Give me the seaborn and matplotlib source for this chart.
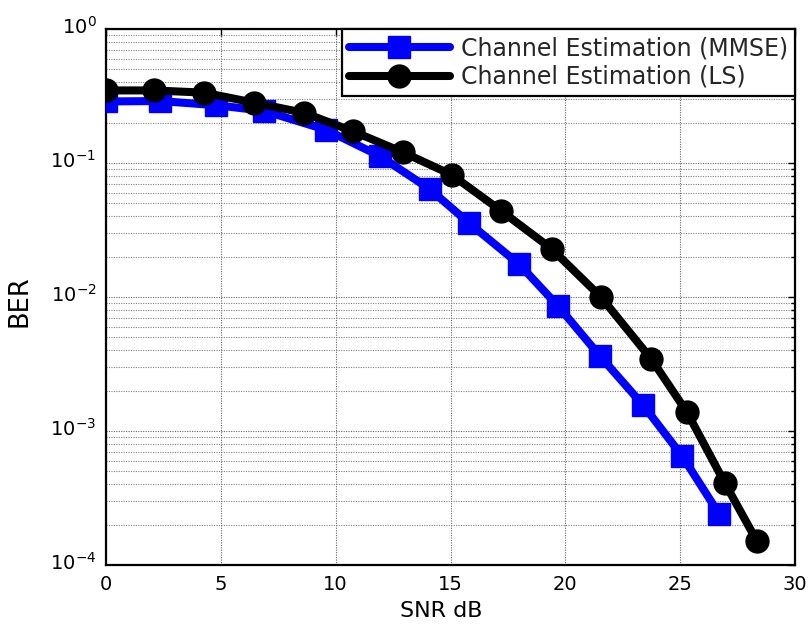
import numpy as np
import pandas as pd
import matplotlib
matplotlib.use("Agg")
import matplotlib.pyplot as plt
import matplotlib.ticker as mticker
import matplotlib.transforms as mtransforms
import seaborn as sns

# ---- data ----
snr_mmse = [0, 2.35, 4.79, 6.88, 9.58, 11.95, 14.1, 15.8, 18.0, 19.7, 21.5, 23.4, 25.1, 26.7]
ber_mmse = [0.288, 0.29, 0.27, 0.245, 0.177, 0.112, 0.0638, 0.0357, 0.0175, 0.0085,
            0.00364, 0.00155, 0.000646, 0.00024]
snr_ls = [0, 2.09, 4.27, 6.44, 8.62, 10.77, 12.94, 15.05, 17.2, 19.4, 21.55, 23.75, 25.3, 26.95, 28.35]
ber_ls = [0.348, 0.348, 0.335, 0.282, 0.237, 0.172, 0.12, 0.0817, 0.044, 0.0229,
          0.01, 0.00343, 0.00138, 0.000407, 0.00015]
label_mmse = "Channel Estimation (MMSE)"
label_ls = "Channel Estimation (LS)"
x_ticks = [0, 5, 10, 15, 20, 25, 30]
y_ticks = [1e-4, 1e-3, 1e-2, 1e-1, 1e0]

sns.set_theme(style="white")
plt.rcParams["font.family"] = ["DejaVu Sans"]
plt.rcParams["mathtext.default"] = "regular"

fig = plt.figure(figsize=(8.11, 6.26), dpi=100)
ax = fig.add_axes([106 / 811, 61 / 626, 689 / 811, 536 / 626])

df_mmse = pd.DataFrame({"snr": snr_mmse, "ber": ber_mmse})
df_ls = pd.DataFrame({"snr": snr_ls, "ber": ber_ls})

sns.lineplot(data=df_mmse, x="snr", y="ber", ax=ax, sort=False, color="#0000ff",
             linewidth=5.8, marker="s", markersize=16.5, markerfacecolor="#0000ff",
             markeredgecolor="#0000ff", markeredgewidth=1, label=label_mmse, zorder=3)
sns.lineplot(data=df_ls, x="snr", y="ber", ax=ax, sort=False, color="black",
             linewidth=5.8, marker="o", markersize=16.5, markerfacecolor="black",
             markeredgecolor="black", markeredgewidth=1, label=label_ls, zorder=4)

ax.set_yscale("log")
ax.set_xlim(0, 30)
ax.set_ylim(1e-4, 1)
ax.set_xticks(x_ticks)
ax.set_yticks(y_ticks)
ax.yaxis.set_minor_locator(mticker.LogLocator(base=10, subs=np.arange(2, 10), numticks=20))
ax.yaxis.set_minor_formatter(mticker.NullFormatter())
ax.yaxis.set_major_formatter(mticker.LogFormatterSciNotation())

ax.grid(True, which="major", axis="both", linestyle=(0, (1, 1.2)), linewidth=0.8, color="0.4")
ax.grid(True, which="minor", axis="y", linestyle=(0, (1, 1.2)), linewidth=0.8, color="0.5")
ax.set_axisbelow(True)

for s in ax.spines.values():
    s.set_visible(True)
    s.set_color("black")
    s.set_linewidth(1.6)

ax.tick_params(which="both", direction="in", top=True, right=True, colors="black",
               labelsize=14, width=1)
ax.tick_params(which="major", length=5, pad=7)
ax.tick_params(which="minor", length=3)

# lift y tick labels so the "10" part sits on the tick (superscript above)
offset = mtransforms.ScaledTranslation(0, 3 / 72, fig.dpi_scale_trans)
for lbl in ax.get_yticklabels():
    lbl.set_transform(lbl.get_transform() + offset)

ax.set_xlabel("SNR dB", fontsize=16, color="black")
ax.set_ylabel("BER", fontsize=18.5, color="black")
ax.xaxis.set_label_coords(0.486, -0.0666)
ax.yaxis.set_label_coords(-0.107, 0.493)

leg = ax.legend(loc="upper right", bbox_to_anchor=(1.0, 1.0), borderaxespad=0,
                fontsize=17, frameon=True, fancybox=False, shadow=False,
                borderpad=0.3, handlelength=4.3, handletextpad=0.45, labelspacing=0.2,
                framealpha=1)
leg.get_frame().set_edgecolor("black")
leg.get_frame().set_linewidth(1.6)
leg.set_zorder(10)

fig.savefig("out.png", dpi=100)
